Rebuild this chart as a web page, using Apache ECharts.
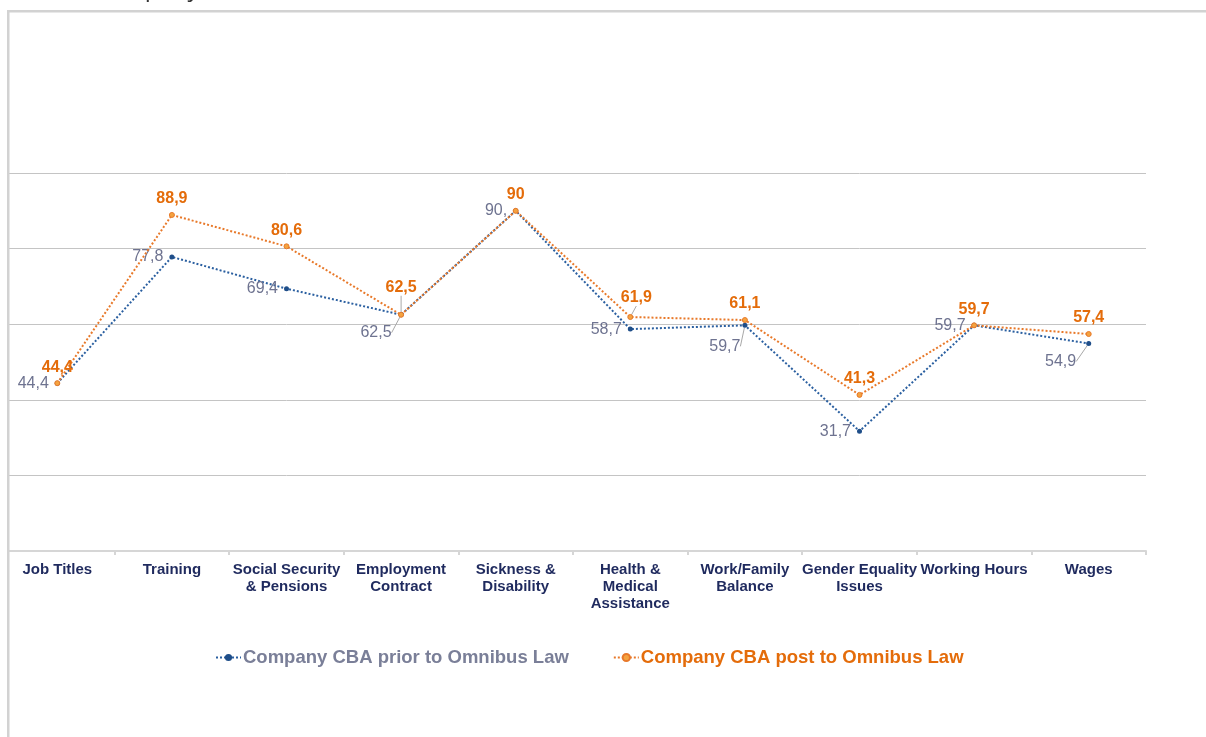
<!DOCTYPE html>
<html>
<head>
<meta charset="utf-8">
<title>Company CBA</title>
<script src="https://cdn.jsdelivr.net/npm/echarts@6/dist/echarts.min.js"></script>
<style>
  html, body { margin: 0; padding: 0; background: #ffffff; }
  #chart { width: 1206px; height: 737px; }
</style>
</head>
<body>
<div id="chart"></div>
<script>
// Topics covered by the collective bargaining agreements
const categories = [
  'Job Titles',
  'Training',
  'Social Security\n& Pensions',
  'Employment\nContract',
  'Sickness &\nDisability',
  'Health &\nMedical\nAssistance',
  'Work/Family\nBalance',
  'Gender Equality\nIssues',
  'Working Hours',
  'Wages'
];

// Share of company CBAs covering each topic (%)
const priorValues = [44.4, 77.8, 69.4, 62.5, 90, 58.7, 59.7, 31.7, 59.7, 54.9];
const postValues  = [44.4, 88.9, 80.6, 62.5, 90, 61.9, 61.1, 41.3, 59.7, 57.4];

const seriesNames = ['Company CBA prior to Omnibus Law', 'Company CBA post to Omnibus Law'];

// Comma decimal separator; the prior series keeps the trailing comma on whole numbers
const fmtPrior = v => Number.isInteger(v) ? v + ',' : String(v).replace('.', ',');
const fmtPost  = v => String(v).replace('.', ',');

// Labels nudged off the marker with a small leader line
const priorShift = { 3: [-1, 18], 6: [4, 21], 9: [-4, 18] };
const postShift  = { 3: [0, -11], 5: [6, -3] };

const BLUE = '#2a5fa0';
const ORANGE = '#e8792a';
const BLUE_TEXT = '#6e7390';
const ORANGE_TEXT = '#e46c0a';
const LEADER = '#a8a8a8';
const FONT = 'Liberation Sans, Arial';

function buildData(values, shifts) {
  return values.map((v, i) => shifts[i]
    ? { value: v, labelLine: { show: true, lineStyle: { color: LEADER, width: 1 } } }
    : v);
}

const chart = echarts.init(document.getElementById('chart'), null, { renderer: 'canvas' });

chart.setOption({
  backgroundColor: '#ffffff',
  animation: false,
  grid: { left: 0, right: 60, top: 173, bottom: 186, containLabel: false },
  legend: {
    left: 210,
    top: 643,
    itemWidth: 25,
    itemHeight: 9,
    itemGap: 44,
    data: [
      { name: seriesNames[0], textStyle: { color: '#7a7f98' } },
      { name: seriesNames[1], textStyle: { color: ORANGE_TEXT } }
    ],
    textStyle: { fontFamily: FONT, fontSize: 18.5, fontWeight: 'bold', padding: [0, 0, 0, -3] }
  },
  xAxis: {
    type: 'category',
    data: categories,
    boundaryGap: true,
    axisLine: { show: true, lineStyle: { color: '#d6d6d6', width: 2 } },
    axisTick: { show: true, length: 4, lineStyle: { color: '#d6d6d6', width: 2 } },
    axisLabel: {
      interval: 0,
      margin: 10,
      color: '#1f2a5e',
      fontFamily: FONT,
      fontSize: 15,
      fontWeight: 'bold',
      lineHeight: 17,
      verticalAlign: 'top'
    }
  },
  yAxis: {
    type: 'value',
    min: 0,
    max: 100,
    interval: 20,
    axisLine: { show: false },
    axisTick: { show: false },
    axisLabel: { show: false },
    splitLine: { show: true, lineStyle: { color: '#c4c4c4', width: 1 } }
  },
  series: [
    {
      name: seriesNames[0],
      type: 'line',
      z: 2,
      data: buildData(priorValues, priorShift),
      symbol: 'circle',
      symbolSize: 5,
      itemStyle: { color: '#1f4e89', borderColor: '#1f4e89', borderWidth: 0 },
      lineStyle: { color: BLUE, width: 2, type: 'dotted' },
      label: {
        show: true,
        position: 'left',
        distance: 6,
        color: BLUE_TEXT,
        fontFamily: FONT,
        fontSize: 16,
        formatter: p => fmtPrior(p.value)
      },
      labelLayout: p => {
        const s = priorShift[p.dataIndex];
        return s ? { dx: s[0], dy: s[1] } : {};
      }
    },
    {
      name: seriesNames[1],
      type: 'line',
      z: 3,
      data: buildData(postValues, postShift),
      symbol: 'circle',
      symbolSize: 5,
      itemStyle: { color: '#f4a340', borderColor: ORANGE, borderWidth: 1 },
      lineStyle: { color: ORANGE, width: 2, type: 'dotted' },
      label: {
        show: true,
        position: 'top',
        distance: 5,
        color: ORANGE_TEXT,
        fontFamily: FONT,
        fontSize: 16,
        fontWeight: 'bold',
        formatter: p => fmtPost(p.value)
      },
      labelLayout: p => {
        const s = postShift[p.dataIndex];
        return s ? { dx: s[0], dy: s[1] } : {};
      }
    }
  ],
  graphic: [
    // panel edge: blank margin to the left, light frame along the top and left
    { type: 'rect', z: 100, shape: { x: 0, y: 0, width: 7, height: 737 }, style: { fill: '#ffffff' } },
    { type: 'rect', z: 100, shape: { x: 0, y: 0, width: 1206, height: 10 }, style: { fill: '#ffffff' } },
    { type: 'rect', z: 101, shape: { x: 7, y: 10, width: 1199, height: 2.5 }, style: { fill: '#d2d2d2' } },
    { type: 'rect', z: 101, shape: { x: 7, y: 10, width: 2.5, height: 727 }, style: { fill: '#d2d2d2' } },
    // heading above the panel, mostly outside the window
    {
      type: 'text', z: 102, left: 93, top: -23,
      style: { text: 'Company', fill: '#333333', font: '24px "Open Sans", sans-serif' }
    }
  ]
});
</script>
</body>
</html>
